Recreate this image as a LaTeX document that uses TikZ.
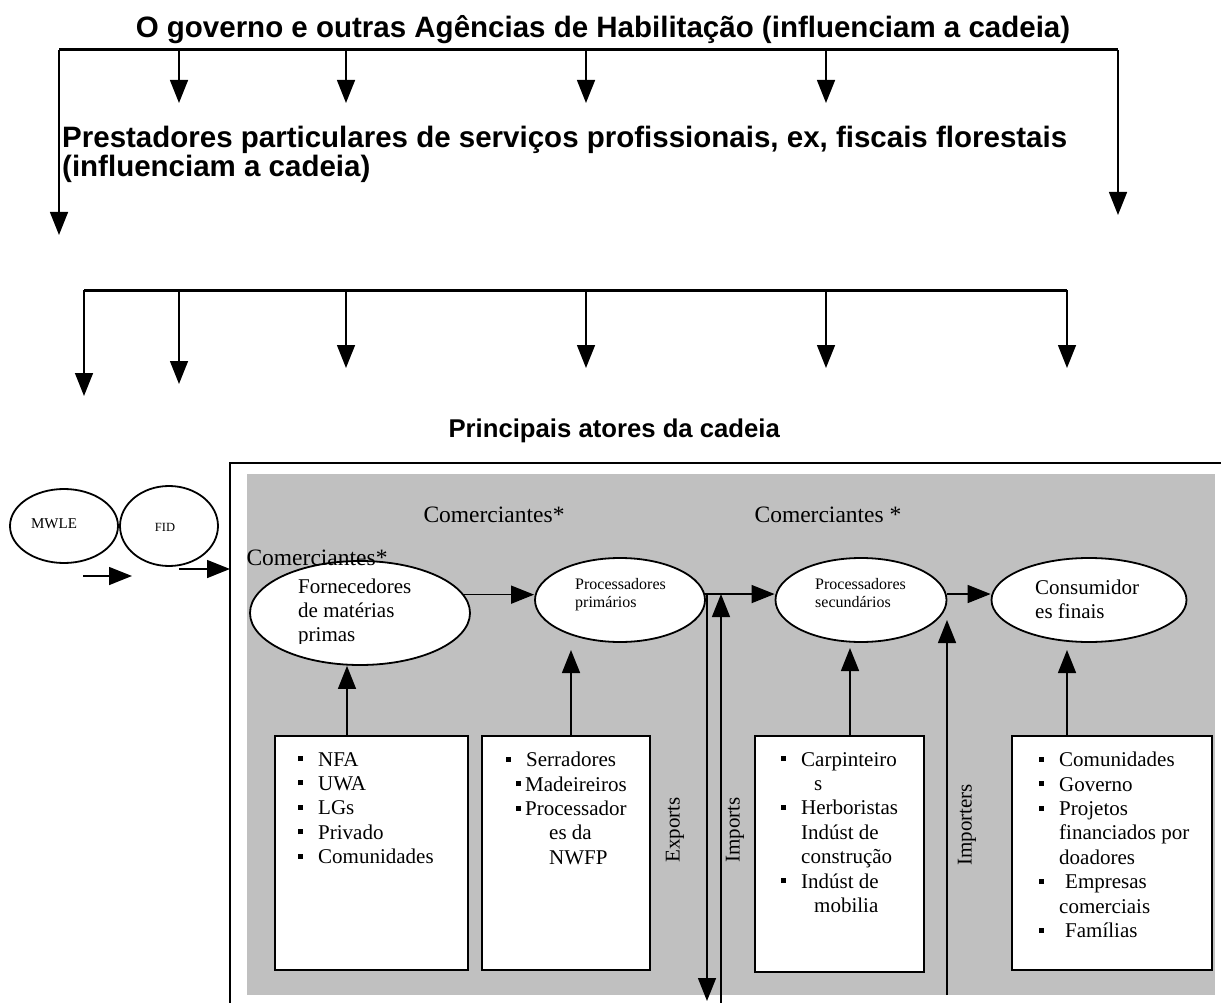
\documentclass[tikz,border=0pt]{standalone}
\usepackage{fontspec}
\setmainfont{Liberation Serif}
\setsansfont{Liberation Sans}
\usetikzlibrary{arrows.meta,shapes.geometric}
\definecolor{cinza}{RGB}{192,192,192}
\newcommand{\marca}{\makebox[20pt][l]{\rule[5pt]{5pt}{5pt}}}
\newcommand{\marcab}{\makebox[9pt][l]{\rule[5pt]{5pt}{5pt}}}

\begin{document}
\begin{tikzpicture}
    [x=1pt,y=-1pt,
    seta/.style={-{Triangle[length=23pt,width=18pt]},line width=1.5pt},
    barra/.style={line width=3pt},
    titulo/.style={font=\fontsize{29.5}{26}\sffamily\bfseries\selectfont},
    subtitulo/.style={font=\fontsize{25.7}{28}\sffamily\bfseries\selectfont},
    texto/.style={font=\fontsize{21}{24.4}\selectfont},
    pequeno/.style={font=\fontsize{16}{18}\selectfont},
    comerc/.style={font=\fontsize{23.5}{26}\selectfont},
    elipse/.style={ellipse,draw,line width=1.8pt,fill=white,inner sep=0pt},
    caixa/.style={draw,line width=1.8pt,fill=white,anchor=north west,inner sep=0pt},
    lista/.style={texto,align=left,anchor=north west,inner sep=0pt}]
    \useasboundingbox (0,0) rectangle (1221,1003);
    %governo e agencias
    \node[titulo,anchor=base] (governo) at (603,38) {O governo e outras Agências de Habilitação (influenciam a cadeia)};
    \coordinate (b1e) at (59,50);
    \coordinate (b1d) at (1118,50);
    \draw[barra] (b1e) -- (b1d);
    \draw[seta] (b1e) -- ++(0,185);
    \draw[seta] (b1d) -- ++(0,165);
    \foreach \x in {179,346,586,826}
        \draw[seta] (b1e -| \x,0) -- ++(0,53);
    \node[titulo,align=left,anchor=north west,inner sep=0pt] (prestadores) at (62,126)
        {Prestadores particulares de serviços profissionais, ex, fiscais florestais\\(influenciam a cadeia)};
    %barra do meio
    \coordinate (b2e) at (84,290);
    \coordinate (b2d) at (1067,290);
    \draw[barra] (b2e) -- (b2d);
    \draw[seta] (b2e) -- ++(0,106);
    \draw[seta] (b2e -| 179,0) -- ++(0,94);
    \foreach \x in {346,586,826}
        \draw[seta] (b2e -| \x,0) -- ++(0,78);
    \draw[seta] (b2d) -- ++(0,78);
    \node[subtitulo,anchor=base west] (atores) at (445,437) {Principais atores da cadeia};
    %MWLE e FID
    \node[elipse,minimum width=108pt,minimum height=74pt] (mwle) at (64,526) {};
    \node[elipse,minimum width=98pt,minimum height=80pt] (fid) at (169,526) {};
    \node[font=\fontsize{15}{17}\selectfont] (mwletxt) at (54,524) {MWLE};
    \node[font=\fontsize{12.5}{15}\selectfont] (fidtxt) at (165,527) {FID};
    \coordinate (s1) at (83,576);
    \coordinate (s2) at (179,569);
    \draw[seta] (s1) -- ++(49,0);
    \draw[seta] (s2) -- ++(51,0);
    %caixa principal
    \fill[cinza] (247,474) rectangle (1215,995);
    \draw[line width=1.8pt] (230,1003) |- (1221,463);
    \node[comerc] (com1) at (494,515) {Comerciantes*};
    \node[comerc] (com2) at (828,515) {Comerciantes *};
    %atores
    \node[elipse,minimum width=220pt,minimum height=104pt] (forn) at (360,613) {};
    \node[elipse,minimum width=170pt,minimum height=84pt] (pp) at (620,600) {};
    \node[elipse,minimum width=171pt,minimum height=84pt] (ps) at (861,600) {};
    \node[elipse,minimum width=195pt,minimum height=84pt] (cf) at (1089,600) {};
    \node[comerc,anchor=west] (com3) at (243,558) {Comerciantes*};
    \begin{scope}
        \clip (250,560) rectangle (470,643);
        \node[lista,font=\fontsize{21}{24}\selectfont] (forntxt) at (298,579) {Fornecedores\\de matérias\\primas};
    \end{scope}
    \node[pequeno,align=left,anchor=north west,inner sep=0pt] (pptxt) at (575,578) {Processadores\\primários};
    \node[pequeno,align=left,anchor=north west,inner sep=0pt] (pstxt) at (815,578) {Processadores\\secundários};
    \node[lista,font=\fontsize{21}{24}\selectfont] (cftxt) at (1035,580) {Consumidor\\es finais};
    \draw[seta] (forn.10) -- (forn.10 -| pp.west);
    \draw[seta] (pp.4) -- (pp.4 -| ps.west);
    \draw[seta] (ps.4) -- (ps.4 -| cf.west);
    %exports e imports
    \coordinate (expfim) at (707,1001);
    \coordinate (impini) at (721,1003);
    \coordinate (impters) at (947,995);
    \draw[seta] (pp.4 -| expfim) -- (expfim);
    \draw[seta] (impini) -- (impini |- pp.4);
    \draw[seta] (impters) -- ++(0,-375);
    \node[texto,rotate=90] (exportstxt) at (675,830) {Exports};
    \node[texto,rotate=90] (importstxt) at (735,830) {Imports};
    \node[texto,rotate=90] (importerstxt) at (967,825) {Importers};
    %caixas de baixo
    \node[caixa,minimum width=193pt,minimum height=234pt] (caixa1) at (274,735) {};
    \node[caixa,minimum width=168pt,minimum height=234pt] (caixa2) at (481,735) {};
    \node[caixa,minimum width=169pt,minimum height=236pt] (caixa3) at (754,735) {};
    \node[caixa,minimum width=200pt,minimum height=234pt] (caixa4) at (1011,735) {};
    \draw[seta] ([xshift=73pt]caixa1.north west) -- ([xshift=73pt]caixa1.north west |- forn.south);
    \draw[seta] ([xshift=90pt]caixa2.north west) -- ++(0,-85);
    \draw[seta] ([xshift=96pt]caixa3.north west) -- ++(0,-87);
    \draw[seta] ([xshift=56pt]caixa4.north west) -- ++(0,-85);
    \node[lista] (lista1) at (298,752) {\marca NFA\\\marca UWA\\\marca LGs\\\marca Privado\\\marca Comunidades};
    \node[lista] (lista2) at (506,752) {\marca Serradores\\\hspace*{10pt}\marcab Madeireiros\\\hspace*{10pt}\marcab Processador\\\hspace*{43pt}es da\\\hspace*{43pt}NWFP};
    \node[lista] (lista3) at (781,752) {\marca Carpinteiro\\\hspace*{33pt}s\\\marca Herboristas\\\hspace*{20pt}Indúst de\\\hspace*{20pt}construção\\\marca Indúst de\\\hspace*{33pt}mobilia};
    \node[lista] (lista4) at (1039,752) {\marca Comunidades\\\marca Governo\\\marca Projetos\\\hspace*{20pt}financiados por\\\hspace*{20pt}doadores\\\marca\hspace*{6pt}Empresas\\\hspace*{20pt}comerciais\\\marca\hspace*{6pt}Famílias};
\end{tikzpicture}
\end{document}
